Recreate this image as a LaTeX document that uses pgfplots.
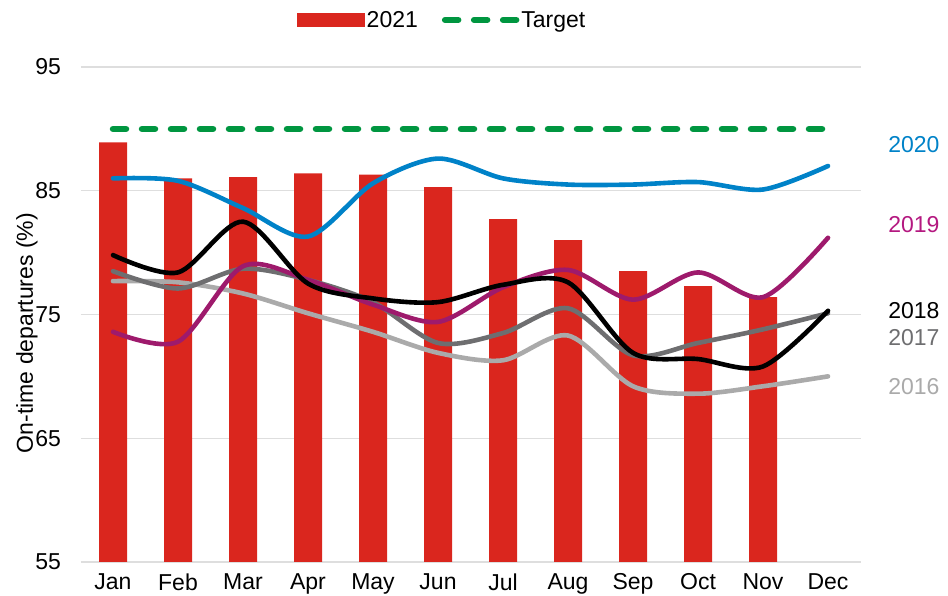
\documentclass[border=0pt]{standalone}
\usepackage{pgfplots}
\pgfplotsset{compat=1.18}
\usepackage{fontspec}
\setmainfont{Liberation Sans}
\definecolor{barred}{RGB}{218,38,30}
\definecolor{tgreen}{RGB}{0,150,64}
\definecolor{c2020}{RGB}{0,130,200}
\definecolor{c2019}{RGB}{158,26,108}
\definecolor{l2019}{RGB}{180,24,128}
\definecolor{c2017}{RGB}{110,110,112}
\definecolor{c2016}{RGB}{170,170,170}
\definecolor{gridc}{RGB}{222,222,222}
\begin{document}
\begin{tikzpicture}
\path[use as bounding box] (0,0) rectangle (948pt,596pt);
\begin{axis}[
  at={(80.5pt,34pt)}, anchor=south west,
  width=780pt, height=495pt, scale only axis,
  xmin=-0.5, xmax=11.5, ymin=55, ymax=95,
  ytick={55,65,75,85,95},
  xtick={0,...,11},
  xticklabels={Jan,Feb,Mar,Apr,May,Jun,Jul,Aug,Sep,Oct,Nov,Dec},
  ymajorgrids, grid style={gridc, line width=1.2pt},
  axis line style={draw=none}, tick style={draw=none},
  font=\fontsize{23}{27}\selectfont,
  /pgf/number format/assume math mode=true,
  yticklabel style={xshift=-16pt},
  xticklabel style={yshift=-8pt},
  ylabel={On-time departures (\%)},
  every axis y label/.style={at={(axis description cs:-0.0686,0.4626)}, rotate=90, anchor=center, font=\fontsize{23}{27}\selectfont},
  legend columns=2,
  legend style={at={(axis description cs:0.4635,1.095)}, anchor=center, draw=none, fill=none,
    font=\fontsize{23}{27}\selectfont, /tikz/every even column/.append style={column sep=22pt}},
  clip=false,
]
\addplot[ybar, bar width=28pt, fill=barred, draw=none,
  legend image code/.code={\fill[barred] (0pt,-7pt) rectangle (68pt,7pt);}]
  coordinates {(0,88.9) (1,86.0) (2,86.1) (3,86.4) (4,86.3) (5,85.3) (6,82.7) (7,81.0) (8,78.5) (9,77.3) (10,76.4)};
\addlegendentry{2021}
\addplot[forget plot, c2016, line width=4.6pt, smooth, line cap=round]
  coordinates {(0,77.7) (1,77.6) (2,76.7) (3,75.1) (4,73.6) (5,71.9) (6,71.3) (7,73.3) (8,69.2) (9,68.6) (10,69.2) (11,70.0)};
\addplot[forget plot, c2017, line width=4.6pt, smooth, line cap=round]
  coordinates {(0,78.5) (1,77.1) (2,78.7) (3,77.8) (4,76.0) (5,72.7) (6,73.5) (7,75.5) (8,71.7) (9,72.7) (10,73.8) (11,75.1)};
\addplot[forget plot, c2019, line width=4.6pt, smooth, line cap=round]
  coordinates {(0,73.6) (1,72.8) (2,78.9) (3,77.8) (4,75.8) (5,74.4) (6,77.2) (7,78.6) (8,76.2) (9,78.4) (10,76.4) (11,81.2)};
\addplot[forget plot, black, line width=4.6pt, smooth, line cap=round]
  coordinates {(0,79.8) (1,78.4) (2,82.5) (3,77.5) (4,76.3) (5,76.0) (6,77.4) (7,77.6) (8,71.9) (9,71.4) (10,70.8) (11,75.3)};
\addplot[forget plot, c2020, line width=4.6pt, smooth, line cap=round]
  coordinates {(0,86.0) (1,85.8) (2,83.6) (3,81.3) (4,85.6) (5,87.6) (6,86.0) (7,85.5) (8,85.5) (9,85.7) (10,85.1) (11,87.0)};
\addplot[tgreen, line width=6.5pt, line cap=round, dash pattern=on 13pt off 16pt,
  legend image code/.code={\draw[tgreen, line width=6.5pt, line cap=round, dash pattern=on 13pt off 16pt] (3pt,0pt) -- (74pt,0pt);}]
  coordinates {(0,90) (11.1,90)};
\addlegendentry{Target}
\node[anchor=east, text=c2020] at (axis description cs:1.1058,0.8424) {2020};
\node[anchor=east, text=l2019] at (axis description cs:1.1058,0.6808) {2019};
\node[anchor=east, text=black] at (axis description cs:1.1058,0.5071) {2018};
\node[anchor=east, text=c2017] at (axis description cs:1.1058,0.4525) {2017};
\node[anchor=east, text=c2016] at (axis description cs:1.1058,0.3535) {2016};
\end{axis}
\end{tikzpicture}
\end{document}
